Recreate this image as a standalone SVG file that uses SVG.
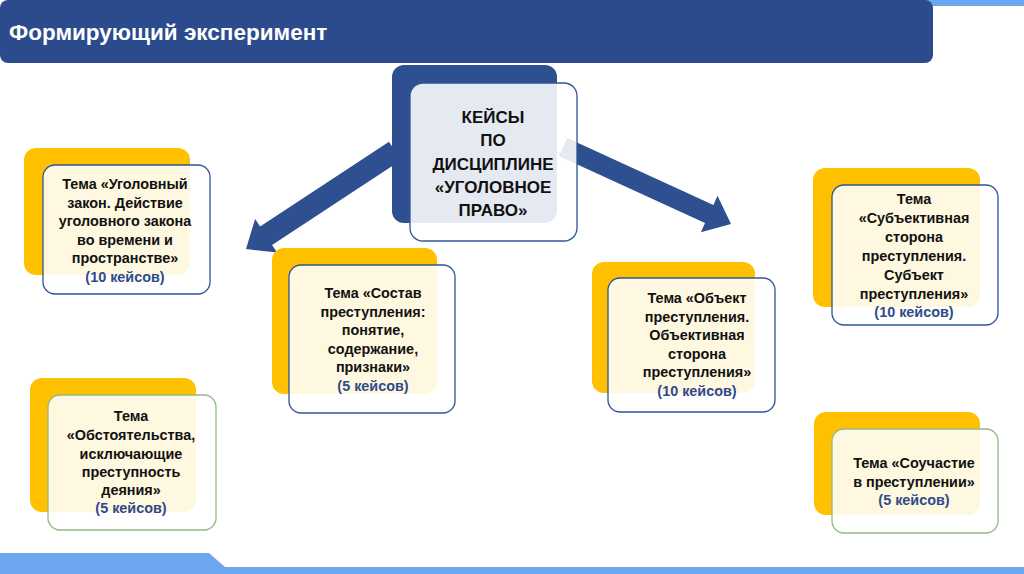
<svg xmlns="http://www.w3.org/2000/svg" width="1024" height="574" viewBox="0 0 1024 574">
<style>
.back{fill:#FFC000}
.front{fill:#FFFFFF;fill-opacity:0.88;stroke-width:1.3}
.fb{stroke:#2F5597}
.fg{stroke:#94B985}
.t{font-family:"Liberation Sans",Arial,sans-serif;font-weight:bold;font-size:14.4px;fill:#111111;text-anchor:middle}
.c{fill:#2E4A8A}
.ct{font-family:"Liberation Sans",Arial,sans-serif;font-weight:bold;font-size:17px;fill:#111111;text-anchor:middle}
.arrow{fill:#2E5090}
</style>
<rect width="1024" height="574" fill="#FFFFFF"/>
<g id="decor">
<rect x="900" y="0" width="124" height="6" fill="#6CA6EE"/>
<rect x="0" y="0" width="933" height="63" rx="8" fill="#2B4B8C"/>
<text x="9" y="40" font-family="Liberation Sans,Arial,sans-serif" font-weight="bold" font-size="22.5" fill="#FFFFFF">Формирующий эксперимент</text>
<polygon points="0,553 209,553 225,567 1024,567 1024,574 0,574" fill="#6CA6EE"/>
</g>
<g id="center-back">
<rect x="392" y="65" width="165" height="158" rx="12" fill="#2E5090"/>
</g>
<g id="connectors">
<polygon class="arrow" points="389,141.8 260.1,226.6 255.1,219.1 246,249 277.1,252.5 272.1,245 401,160.2"/>
<polygon class="arrow" points="567.2,137.9 713.4,204.9 717.5,195.8 731,224 700.9,232.2 705,223.1 558.8,156.1"/>
</g>
<g id="center">
<rect class="front fb" x="410" y="83" width="167" height="158" rx="13"/>
<text class="ct" x="493" y="123">КЕЙСЫ</text>
<text class="ct" x="493" y="146">ПО</text>
<text class="ct" x="493" y="169.5">ДИСЦИПЛИНЕ</text>
<text class="ct" x="493" y="193">«УГОЛОВНОЕ</text>
<text class="ct" x="493" y="216">ПРАВО»</text>
</g>
<g id="node-ugolovny-zakon">
<rect class="back" x="24" y="148" width="166" height="127" rx="12"/>
<rect class="front fb" x="43" y="165" width="167" height="129" rx="12"/>
<text class="t" x="125" y="189">Тема «Уголовный</text>
<text class="t" x="125" y="207.6">закон. Действие</text>
<text class="t" x="125" y="226.2">уголовного закона</text>
<text class="t" x="125" y="244.8">во времени и</text>
<text class="t" x="125" y="263.4">пространстве»</text>
<text class="t c" x="125" y="282">(10 кейсов)</text>
</g>
<g id="node-sostav">
<rect class="back" x="272" y="248" width="165" height="146" rx="12"/>
<rect class="front fb" x="289" y="265" width="166" height="148" rx="12"/>
<text class="t" x="373" y="298">Тема «Состав</text>
<text class="t" x="373" y="316.5">преступления:</text>
<text class="t" x="373" y="335">понятие,</text>
<text class="t" x="373" y="353.5">содержание,</text>
<text class="t" x="373" y="372">признаки»</text>
<text class="t c" x="373" y="390.5">(5 кейсов)</text>
</g>
<g id="node-obekt">
<rect class="back" x="592" y="262" width="163" height="131" rx="12"/>
<rect class="front fb" x="608" y="278" width="167" height="134" rx="12"/>
<text class="t" x="697" y="303">Тема «Объект</text>
<text class="t" x="697" y="321.6">преступления.</text>
<text class="t" x="697" y="340.2">Объективная</text>
<text class="t" x="697" y="358.8">сторона</text>
<text class="t" x="697" y="377.4">преступления»</text>
<text class="t c" x="697" y="396">(10 кейсов)</text>
</g>
<g id="node-subektivnaya">
<rect class="back" x="813" y="168" width="167" height="139" rx="12"/>
<rect class="front fb" x="832" y="185" width="166" height="140" rx="12"/>
<text class="t" x="914" y="204">Тема</text>
<text class="t" x="914" y="223">«Субъективная</text>
<text class="t" x="914" y="242">сторона</text>
<text class="t" x="914" y="261">преступления.</text>
<text class="t" x="914" y="280">Субъект</text>
<text class="t" x="914" y="298.5">преступления»</text>
<text class="t c" x="914" y="317">(10 кейсов)</text>
</g>
<g id="node-obstoyatelstva">
<rect class="back" x="30" y="378" width="166" height="134" rx="12"/>
<rect class="front fg" x="48" y="395" width="168" height="135" rx="12"/>
<text class="t" x="131" y="421">Тема</text>
<text class="t" x="131" y="439.5">«Обстоятельства,</text>
<text class="t" x="131" y="458.5">исключающие</text>
<text class="t" x="131" y="477">преступность</text>
<text class="t" x="131" y="495">деяния»</text>
<text class="t c" x="131" y="513">(5 кейсов)</text>
</g>
<g id="node-souchastie">
<rect class="back" x="814" y="412" width="166" height="103" rx="12"/>
<rect class="front fg" x="832" y="429" width="166" height="104" rx="12"/>
<text class="t" x="914" y="468">Тема «Соучастие</text>
<text class="t" x="914" y="487">в преступлении»</text>
<text class="t c" x="914" y="505">(5 кейсов)</text>
</g>
</svg>
